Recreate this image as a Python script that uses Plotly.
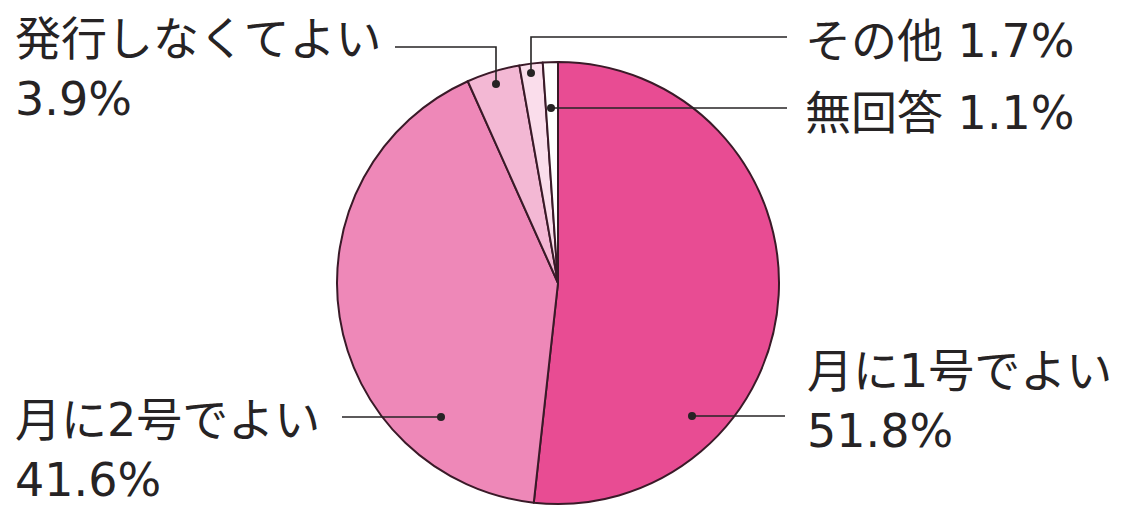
import plotly.graph_objects as go

W, H = 1121, 507
OFF = 8  # page body margin shifts the figure by 8px

# data
labels = ["月に1号でよい", "月に2号でよい", "発行しなくてよい", "その他", "無回答"]
values = [51.8, 41.6, 3.9, 1.7, 1.1]
colors = ["#E84C93", "#EE88B8", "#F3B8D4", "#FADDEB", "#FFFFFF"]


def px(x):
    return (x - OFF) / W


def py(y):
    return 1 - (y - OFF) / H


fig = go.Figure()
fig.add_trace(
    go.Pie(
        labels=labels,
        values=values,
        sort=False,
        direction="clockwise",
        rotation=0,
        marker=dict(colors=colors, line=dict(color="#3A1A28", width=2)),
        textinfo="none",
        hovertemplate="%{label}: %{value}%<extra></extra>",
        domain=dict(x=[px(337), px(779)], y=[py(504), py(62)]),
        showlegend=False,
    )
)

ink = "#262324"
font = dict(family="DejaVu Sans, Noto Sans CJK JP", size=46, color=ink)

# label text: (text, left x, centre y) in pixels
texts = [
    (f"{labels[2]}<br>{values[2]}%", 13, 72),
    (f"{labels[3]} {values[3]}%", 803, 44),
    (f"{labels[4]} {values[4]}%", 803, 116),
    (f"{labels[0]}<br>{values[0]}%", 805, 404),
    (f"{labels[1]}<br>{values[1]}%", 13, 453),
]
annotations = [
    dict(
        text=t, x=px(x), y=py(y - 3), xref="paper", yref="paper",
        xanchor="left", yanchor="middle", align="left", showarrow=False,
        font=font,
    )
    for t, x, y in texts
]

# leader lines (polylines in pixels) ending at a dot
leaders = [
    [(395, 47), (496, 47), (496, 84)],
    [(787, 37), (531, 37), (531, 73)],
    [(787, 108), (551, 108)],
    [(785, 416), (692, 416)],
    [(342, 417), (441, 417)],
]
shapes = []
for pts in leaders:
    path = "M " + " L ".join(f"{px(x)},{py(y)}" for x, y in pts)
    shapes.append(
        dict(type="path", path=path, xref="paper", yref="paper",
             line=dict(color=ink, width=1.6))
    )
    ex, ey = pts[-1]
    shapes.append(
        dict(type="circle", xref="paper", yref="paper",
             xsizemode="pixel", ysizemode="pixel",
             xanchor=px(ex), yanchor=py(ey),
             x0=-4, x1=4, y0=-4, y1=4,
             fillcolor=ink, line=dict(width=0))
    )

fig.update_layout(
    width=W,
    height=H,
    margin=dict(l=0, r=0, t=0, b=0),
    paper_bgcolor="white",
    plot_bgcolor="white",
    annotations=annotations,
    shapes=shapes,
)

fig.write_html("out.html")
